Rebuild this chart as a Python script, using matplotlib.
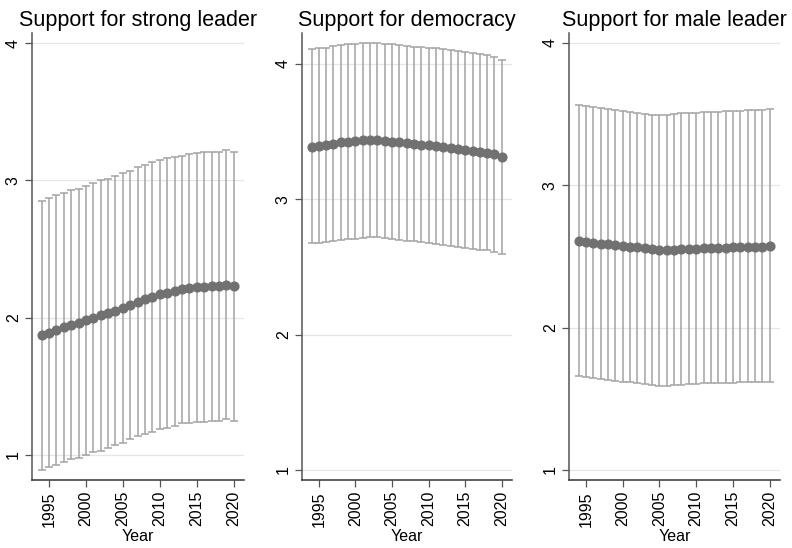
import numpy as np
import matplotlib
matplotlib.use('Agg')
import matplotlib.pyplot as plt

plt.rcParams['font.family'] = ['Liberation Sans', 'DejaVu Sans']

years = list(range(1994, 2021))

# support for strong leader
strong_mean = [1.872, 1.891, 1.910, 1.930, 1.948, 1.964, 1.981, 1.998, 2.016, 2.032, 2.051,
               2.073, 2.095, 2.116, 2.134, 2.153, 2.169, 2.183, 2.195, 2.206, 2.213, 2.220,
               2.226, 2.230, 2.233, 2.238, 2.232]
strong_lo = [0.89, 0.91, 0.93, 0.95, 0.97, 0.98, 1.00, 1.02, 1.03, 1.05, 1.07, 1.09, 1.12,
             1.14, 1.15, 1.17, 1.19, 1.20, 1.21, 1.23, 1.23, 1.24, 1.24, 1.25, 1.25, 1.26, 1.25]
strong_hi = [2.85, 2.87, 2.89, 2.91, 2.93, 2.94, 2.96, 2.98, 3.00, 3.01, 3.03, 3.05, 3.07,
             3.10, 3.11, 3.13, 3.15, 3.16, 3.17, 3.18, 3.19, 3.20, 3.21, 3.21, 3.21, 3.22, 3.21]

# support for democracy
demo_mean = [3.388, 3.393, 3.402, 3.412, 3.420, 3.422, 3.430, 3.435, 3.437, 3.435, 3.432,
             3.427, 3.420, 3.415, 3.407, 3.404, 3.398, 3.392, 3.384, 3.378, 3.370, 3.365,
             3.358, 3.350, 3.343, 3.333, 3.316]
demo_lo = [2.674, 2.680, 2.686, 2.693, 2.700, 2.705, 2.709, 2.716, 2.723, 2.722, 2.716,
           2.708, 2.700, 2.695, 2.690, 2.684, 2.679, 2.672, 2.664, 2.657, 2.650, 2.643,
           2.635, 2.628, 2.622, 2.612, 2.598]
demo_hi = [4.110, 4.115, 4.120, 4.130, 4.140, 4.145, 4.150, 4.153, 4.155, 4.155, 4.150,
           4.146, 4.140, 4.133, 4.128, 4.124, 4.120, 4.115, 4.110, 4.104, 4.097, 4.090,
           4.084, 4.077, 4.067, 4.055, 4.030]

# support for male leader
male_mean = [2.607, 2.603, 2.594, 2.589, 2.586, 2.582, 2.575, 2.570, 2.565, 2.558, 2.554,
             2.547, 2.543, 2.546, 2.551, 2.554, 2.556, 2.557, 2.558, 2.561, 2.563, 2.564,
             2.565, 2.567, 2.568, 2.570, 2.572]
male_lo = [1.657, 1.650, 1.643, 1.638, 1.633, 1.627, 1.621, 1.615, 1.610, 1.603, 1.596,
           1.591, 1.590, 1.595, 1.600, 1.603, 1.605, 1.608, 1.610, 1.611, 1.612, 1.614,
           1.617, 1.617, 1.617, 1.619, 1.621]
male_hi = [3.565, 3.556, 3.548, 3.544, 3.539, 3.531, 3.522, 3.516, 3.511, 3.503, 3.496,
           3.492, 3.491, 3.498, 3.506, 3.509, 3.511, 3.513, 3.515, 3.518, 3.520, 3.523,
           3.525, 3.526, 3.527, 3.530, 3.534]

titles = ['Support for strong leader', 'Support for democracy', 'Support for male leader']
panels = [(strong_mean, strong_lo, strong_hi),
          (demo_mean, demo_lo, demo_hi),
          (male_mean, male_lo, male_hi)]
xticks = [1995, 2000, 2005, 2010, 2015, 2020]
yticks = [1, 2, 3, 4]

# axes boxes and y ranges for each panel
boxes = [[0.0404, 0.1241, 0.2677, 0.8157],
         [0.3813, 0.1241, 0.2652, 0.8157],
         [0.7184, 0.1241, 0.2664, 0.8157]]
ylims = [(0.818, 4.073), (0.926, 4.229), (0.93, 4.07)]

fig = plt.figure(figsize=(7.92, 5.48), dpi=100)

for i in range(3):
    ax = fig.add_axes(boxes[i])
    mean, lo, hi = panels[i]
    mean = np.array(mean)
    err = [mean - np.array(lo), np.array(hi) - mean]
    ax.errorbar(years, mean, yerr=err, fmt='none', ecolor='#a3a3a3',
                elinewidth=1.1, capsize=2.7, capthick=1.1, zorder=2)
    ax.plot(years, mean, 'o', color='#717171', markersize=6.3, zorder=3)

    ax.set_xlim(1992.7, 2021.4)
    ax.set_ylim(ylims[i])
    ax.set_xticks(xticks)
    ax.set_yticks(yticks)
    ax.set_xticklabels([str(x) for x in xticks], rotation=90, fontsize=11.5)
    ax.set_yticklabels([str(y) for y in yticks], rotation=90, fontsize=11.5, va='center')
    ax.tick_params(axis='both', length=5, width=0.9, color='#555555', pad=3)
    ax.grid(axis='y', color='#e6e6e6', linewidth=0.9, zorder=0)
    ax.set_axisbelow(True)
    for side in ['top', 'right']:
        ax.spines[side].set_visible(False)
    ax.spines['left'].set_color('#555555')
    ax.spines['bottom'].set_color('#333333')
    ax.spines['left'].set_linewidth(1.1)
    ax.spines['bottom'].set_linewidth(1.1)
    ax.set_xlabel('Year', fontsize=11.5, labelpad=2)
    ax.set_title(titles[i], fontsize=15.5, pad=5)

fig.savefig('out.png', dpi=100)
